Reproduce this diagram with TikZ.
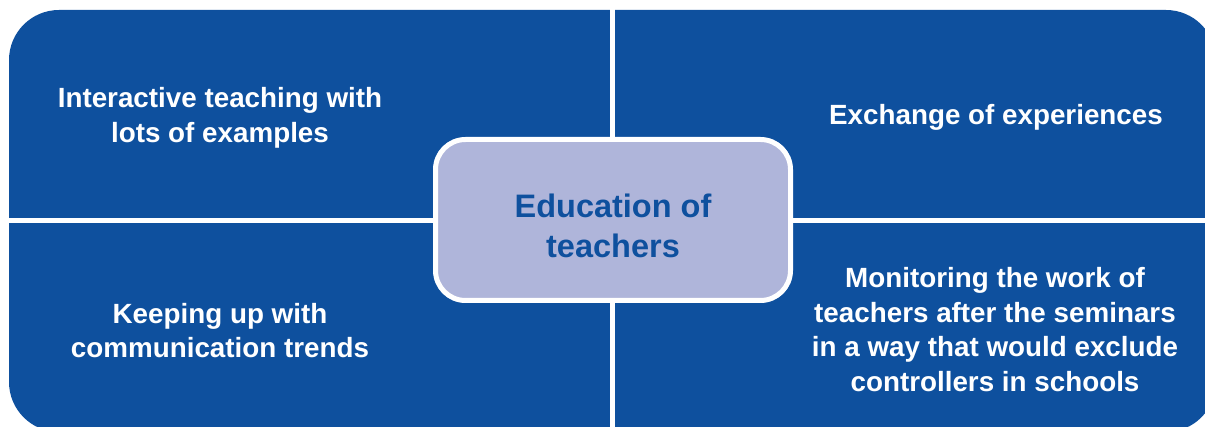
\documentclass[tikz,border=0pt]{standalone}
\usepackage{fontspec}
\setmainfont{Liberation Sans}
\definecolor{quadblue}{HTML}{0E509E}
\definecolor{hublav}{HTML}{AFB5DA}

\begin{document}
\begin{tikzpicture}[x=1pt, y=-1pt,
  quadtext/.style={text=white, font=\bfseries\fontsize{27.8}{34.5}\selectfont, align=center, inner sep=0pt},
  hubbox/.style={draw=white, line width=5pt, fill=hublav, rounded corners=30pt, minimum width=355pt, minimum height=161pt, inner sep=0pt},
  hubtext/.style={text=quadblue, font=\bfseries\fontsize{32.5}{40}\selectfont, align=center, inner sep=0pt}]
\useasboundingbox (0,0) rectangle (1205,427);
% four quarters, cut by white gaps
\fill[quadblue, rounded corners=50pt] (9,10) rectangle (1216,432);
\fill[white] (610.3,0) rectangle (615.3,427);
\fill[white] (0,218) rectangle (1205,223.3);
% middle
\node[hubbox] (hub) at (613,220) {};
\node[hubtext] (hublabel) at ([yshift=-6pt]hub.center) {Education of\\teachers};
% quarter texts
\node[quadtext] (interactive) at (220,118) {Interactive teaching with\\lots of examples};
\node[quadtext] (exchange) at (996,117) {Exchange of experiences};
\node[quadtext] (trends) at (220,330.6) {Keeping up with\\communication trends};
\node[quadtext] (monitoring) at (995,329.6) {Monitoring the work of\\teachers after the seminars\\in a way that would exclude\\controllers in schools};
\end{tikzpicture}
\end{document}
